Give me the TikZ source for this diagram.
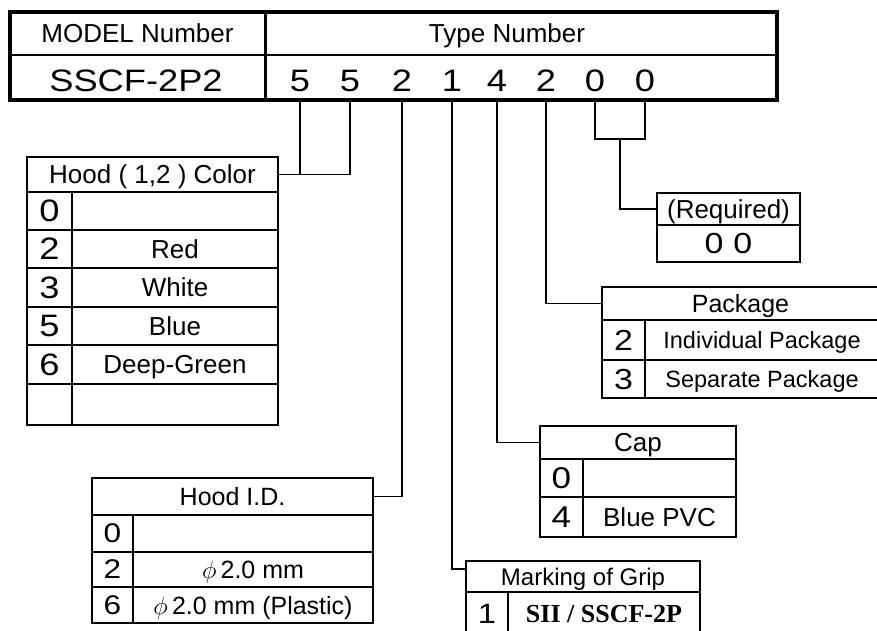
\documentclass[tikz,border=0pt]{standalone}
\usepackage{fontspec}
\setmainfont{Liberation Sans}
\newfontfamily\widefont{Liberation Sans}[FakeStretch=1.17]
\newfontfamily\gripfont{Liberation Serif}
\newcommand{\fs}[1]{\fontsize{#1}{#1}\selectfont}
\tikzset{
  cell/.style={draw, line width=1.8pt, inner sep=0pt, outer sep=0pt, text depth=0pt, align=center},
  digit/.style={inner sep=0pt, text depth=0pt, font=\widefont\fs{31}},
  conn/.style={line width=1.3pt},
}
\newcommand{\cellbox}[7]{\node[cell, minimum width={#4-#2}, minimum height={#5-#3}, font=\fs{#7}] (#1) at ({(#2+#4)/2},{(#3+#5)/2}) {#6};}
\newcommand{\numbox}[7]{\node[cell, minimum width={#4-#2}, minimum height={#5-#3}, font=\widefont\fs{#7}] (#1) at ({(#2+#4)/2},{(#3+#5)/2}) {#6};}
\begin{document}
\begin{tikzpicture}[x=1pt,y=-1pt]
\useasboundingbox (0,0) rectangle (877,630);
% ---- top box
\cellbox{mh}{10}{12}{265}{55}{MODEL Number}{26}
\cellbox{th}{265}{12}{777}{55}{}{26}
\node[inner sep=0pt, text depth=0pt, font=\fs{26}] (tn) at (507,33) {Type Number};
\cellbox{mv}{10}{55}{265}{100}{}{31}
\node[inner sep=0pt, text depth=0pt, font=\widefont\fs{31}] (mvt) at (136,81) {SSCF-2P2};
\cellbox{tv}{265}{55}{777}{100}{}{31}
\foreach \n/\x/\d in {d1/300/5, d2/350/5, d3/402/2, d4/452/1, d5/497/4, d6/546/2, d7/595/0, d8/645/0}
  \node[digit] (\n) at (\x,81) {\d};
\draw[line width=3.5pt] (mh.north west) rectangle (tv.south east);
\draw[line width=3pt] (mh.north east) -- (mv.south east);
% ---- Hood color
\cellbox{hc}{27}{157}{278}{192}{Hood ( 1,2 ) Color}{26}
\foreach \i/\ya/\yb/\d/\t in {1/192/230/0/{}, 2/230/268/2/Red, 3/268/307/3/White, 4/307/345/5/Blue, 5/345/384/6/Deep-Green, 6/384/425/{}/{}}{
  \numbox{hcn\i}{27}{\ya}{72}{\yb}{\d}{31}
  \cellbox{hct\i}{72}{\ya}{278}{\yb}{\t}{26}
}
% ---- Hood I.D.
\cellbox{hid}{92}{478}{373}{515}{Hood I.D.}{25}
\numbox{hidn1}{92}{515}{133}{552}{0}{27}
\cellbox{hidt1}{133}{515}{373}{552}{}{25}
\numbox{hidn2}{92}{552}{133}{587}{2}{27}
\cellbox{hidt2}{133}{552}{373}{587}{$\phi$\,2.0 mm}{25}
\numbox{hidn3}{92}{587}{133}{623}{6}{27}
\cellbox{hidt3}{133}{587}{373}{623}{$\phi$\,2.0 mm (Plastic)}{25}
% ---- Required
\cellbox{rh}{657}{193}{800}{225}{(Required)}{26}
\numbox{rv}{657}{225}{800}{262}{0\hspace{10pt}0}{29}
% ---- Package
\cellbox{ph}{602}{287}{879}{320}{Package}{25}
\numbox{pn1}{602}{320}{645}{360}{2}{29}
\cellbox{pt1}{645}{320}{879}{360}{Individual Package}{23.5}
\numbox{pn2}{602}{360}{645}{398}{3}{29}
\cellbox{pt2}{645}{360}{879}{398}{Separate Package}{23.5}
% ---- Cap
\cellbox{ch}{540}{426}{736}{459}{Cap}{26}
\numbox{cn1}{540}{459}{583}{497}{0}{30}
\cellbox{ct1}{583}{459}{736}{497}{}{26}
\numbox{cn2}{540}{497}{583}{537}{4}{30}
\cellbox{ct2}{583}{497}{736}{537}{Blue PVC}{26}
% ---- Marking of Grip
\cellbox{gh}{466}{561}{700}{592}{Marking of Grip}{24}
\numbox{gn1}{466}{592}{508}{636}{1}{28}
\cellbox{gt1}{508}{592}{700}{636}{\gripfont\bfseries SII / SSCF-2P}{26}
% ---- connectors
\coordinate (rj) at (620,139);
\draw[conn] (d1 |- tv.south) |- (hc.east);
\draw[conn] (d2 |- tv.south) |- (d1 |- hc.east);
\draw[conn] (d3 |- tv.south) |- (hid.east);
\draw[conn] (d4 |- tv.south) |- ([yshift=7.5pt]gh.west);
\draw[conn] (d5 |- tv.south) |- (ch.west);
\draw[conn] (d6 |- tv.south) |- (ph.west);
\draw[conn] (d7 |- tv.south) |- (d8 |- rj) -- (d8 |- tv.south);
\draw[conn] (rj) |- (rh.west);
\end{tikzpicture}
\end{document}
